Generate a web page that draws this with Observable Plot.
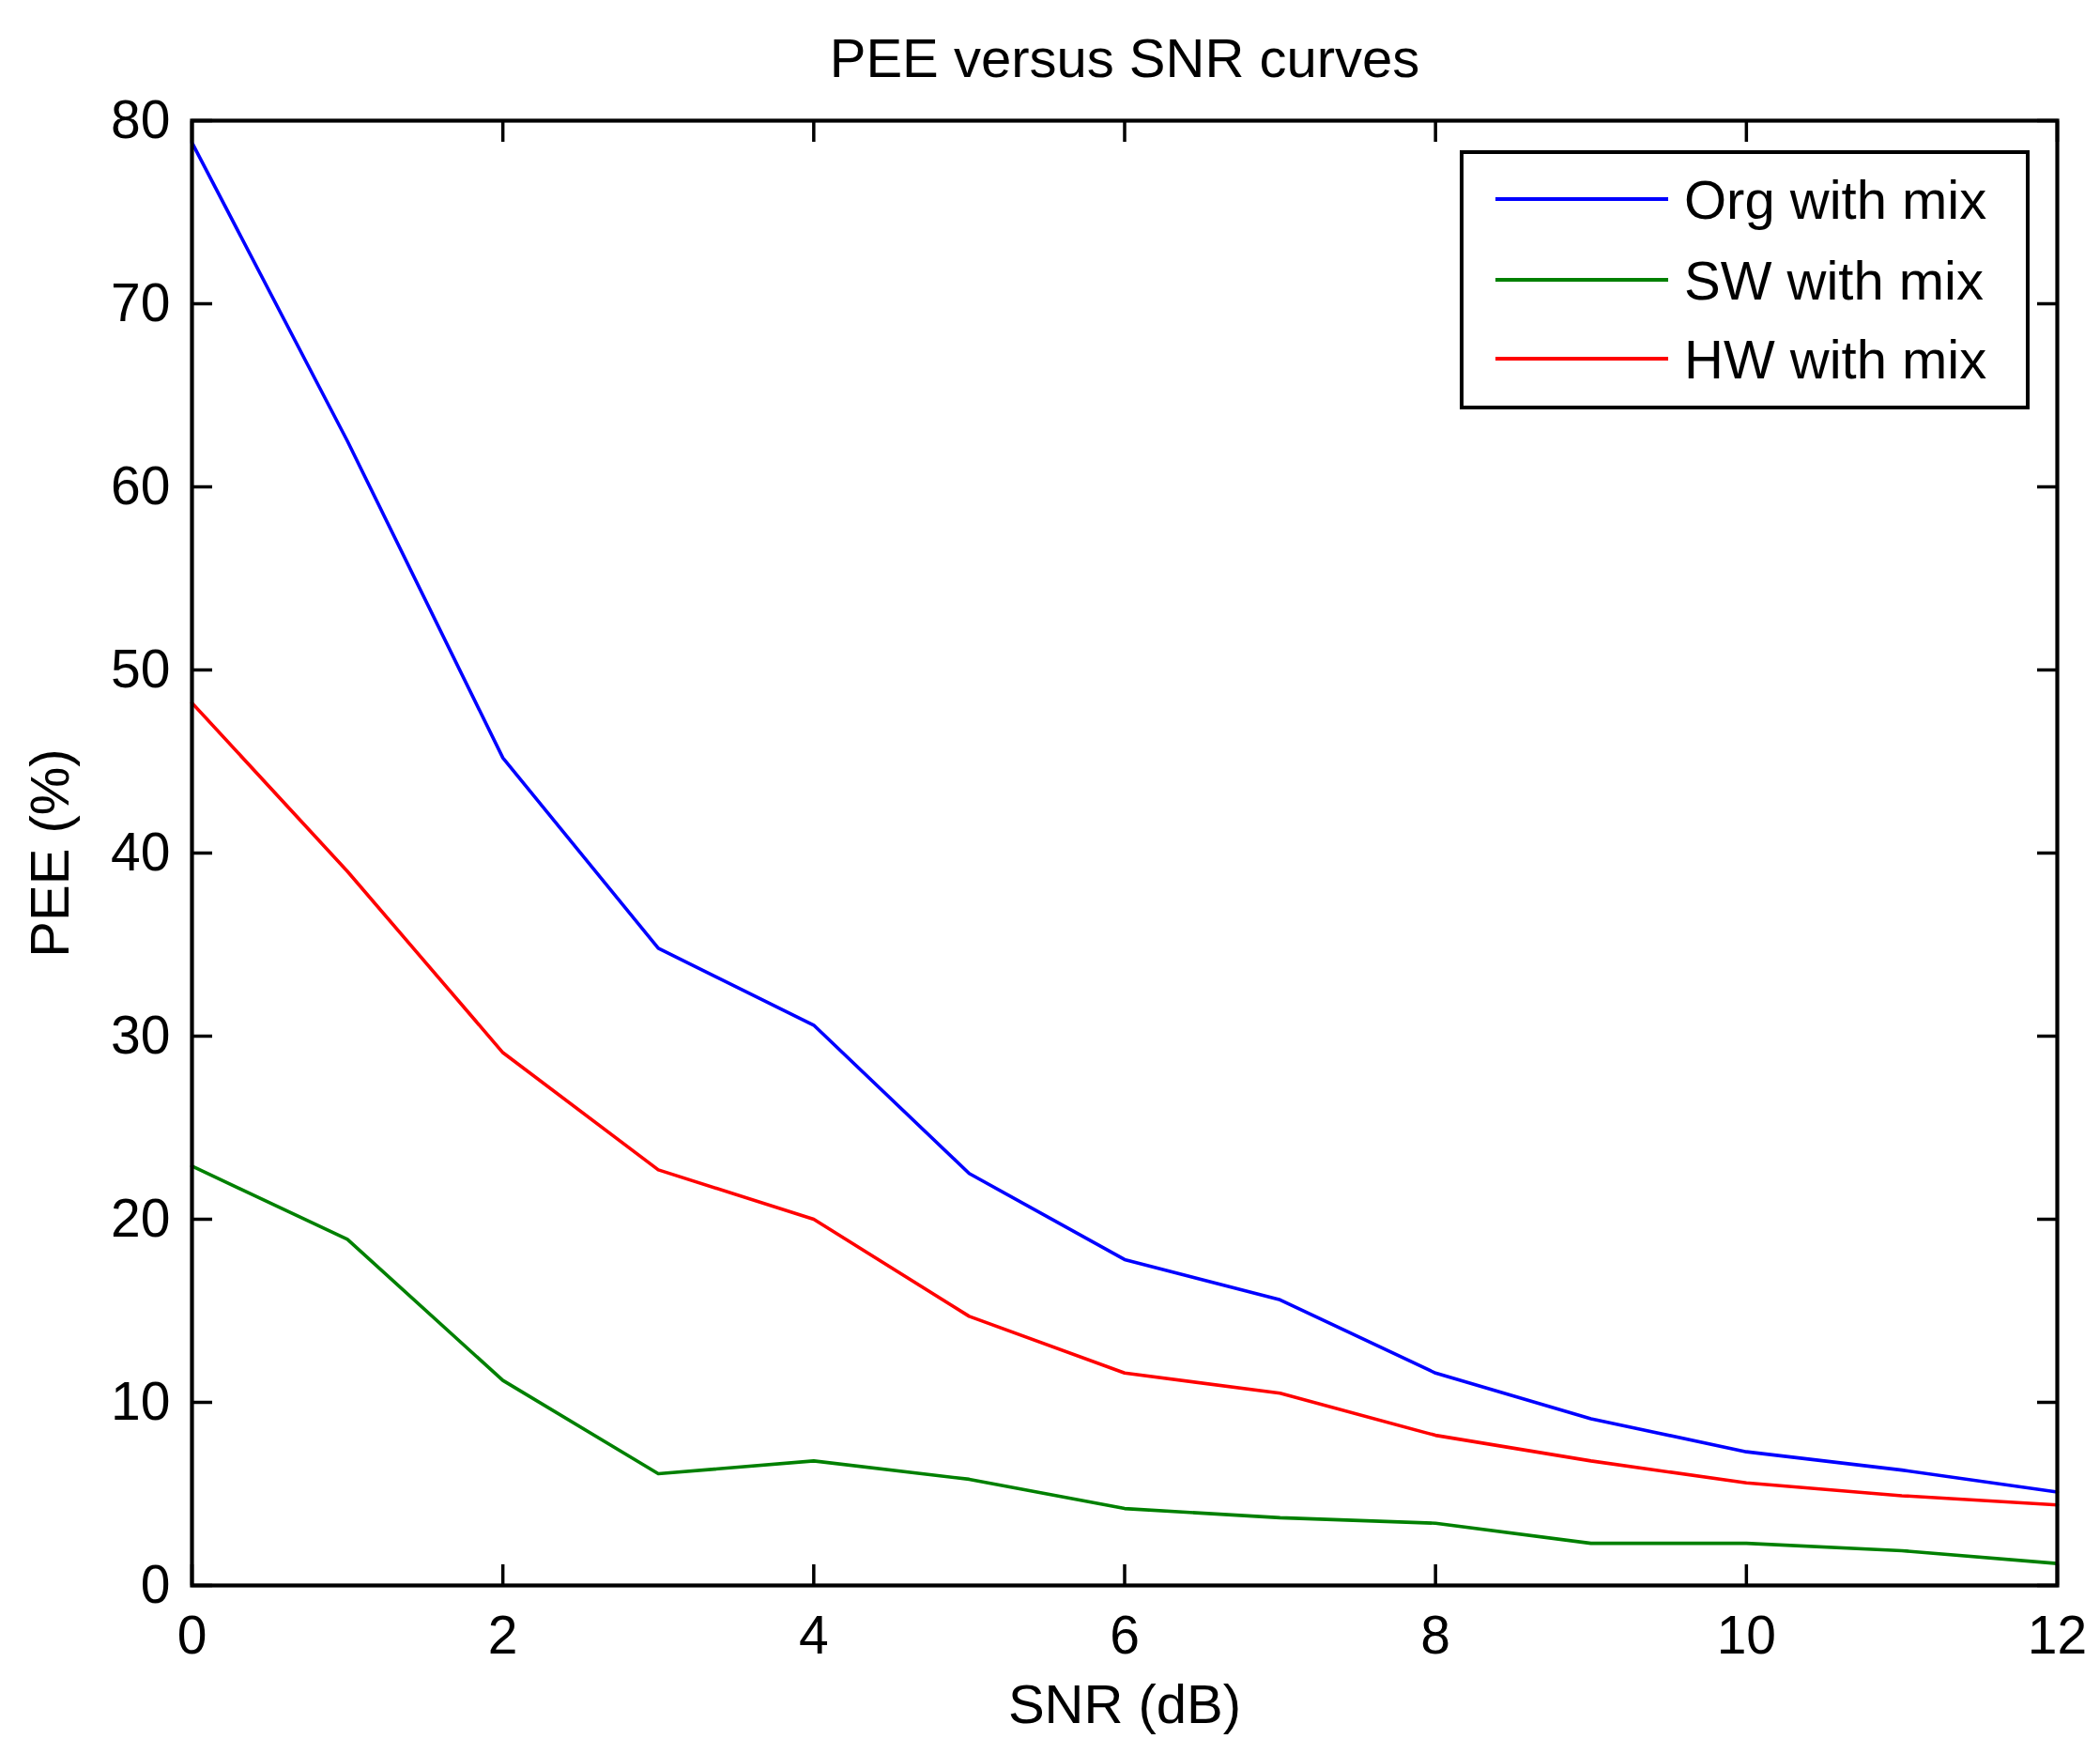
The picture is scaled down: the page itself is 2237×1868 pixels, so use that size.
<!DOCTYPE html>
<html>
<head>
<meta charset="utf-8">
<script src="https://cdn.jsdelivr.net/npm/d3@7"></script>
<script src="https://cdn.jsdelivr.net/npm/@observablehq/plot@0.6"></script>
<style>
  body { margin: 0; background: #fff; }
  #vis { position: relative; width: 2237px; height: 1868px; }
  .legend {
    position: absolute; left: 1555px; top: 160px; width: 599px; height: 268px;
    border: 4px solid #000; background: #fff;
    font-family: "Liberation Sans", Arial, sans-serif; font-size: 58px;
  }
  .legend .row { position: absolute; left: 0; height: 60px; display: flex; align-items: center; }
  .legend .sw { width: 184px; height: 3.5px; margin-left: 34px; margin-right: 17px; }
</style>
</head>
<body>
<div id="vis"></div>
<script>
// SNR (dB)
const snr = [0, 1, 2, 3, 4, 5, 6, 7, 8, 9, 10, 11, 12]
// PEE (%)
const orgMix = [78.8, 62.5, 45.2, 34.8, 30.6, 22.5, 17.8, 15.6, 11.6, 9.1, 7.3, 6.3, 5.1]
const swMix  = [22.9, 18.9, 11.2, 6.1, 6.8, 5.8, 4.2, 3.7, 3.4, 2.3, 2.3, 1.9, 1.2]
const hwMix  = [48.2, 39.0, 29.1, 22.7, 20.0, 14.7, 11.6, 10.5, 8.2, 6.8, 5.6, 4.9, 4.4]

const seriesNames = ['Org with mix', 'SW with mix', 'HW with mix']
const seriesColors = ['#0000ff', '#008000', '#ff0000']
const xTicks = [0, 2, 4, 6, 8, 10, 12]
const yTicks = [0, 10, 20, 30, 40, 50, 60, 70, 80]

const rows = []
;[orgMix, swMix, hwMix].forEach((vals, i) => {
  vals.forEach((v, j) => rows.push({snr: snr[j], pee: v, series: seriesNames[i]}))
})

const font = '"Liberation Sans", Arial, sans-serif'

let chart = Plot.plot({
  width: 2237,
  height: 1868,
  marginLeft: 204,
  marginRight: 46,
  marginTop: 128,
  marginBottom: 180,
  x: {domain: [0, 12]},
  y: {domain: [0, 80]},
  color: {domain: seriesNames, range: seriesColors},
  marks: [
    Plot.line(rows, {x: 'snr', y: 'pee', stroke: 'series', strokeWidth: 3.6}),
    Plot.axisX({anchor: 'bottom', ticks: xTicks, tickSize: -22, tickPadding: 54, strokeWidth: 3.5, label: null}),
    Plot.axisX({anchor: 'top', ticks: xTicks, tickSize: -22, tickFormat: () => '', strokeWidth: 3.5, label: null}),
    Plot.axisY({anchor: 'left', ticks: yTicks, tickSize: -22, tickPadding: 45, strokeWidth: 3.5, label: null}),
    Plot.axisY({anchor: 'right', ticks: yTicks, tickSize: -22, tickFormat: () => '', strokeWidth: 3.5, label: null}),
    Plot.frame({stroke: '#000', strokeWidth: 4.2}),
    Plot.text(['PEE versus SNR curves'], {frameAnchor: 'top', dy: -88, fontSize: 58}),
    Plot.text(['SNR (dB)'], {frameAnchor: 'bottom', dy: 146, fontSize: 58}),
    Plot.text(['PEE (%)'], {frameAnchor: 'left', textAnchor: 'middle', dx: -150, rotate: -90, fontSize: 58}),
  ],
  style: {
    fontFamily: font,
    fontSize: '57px',
    color: '#000',
    background: '#fff',
    overflow: 'visible'
  }
})
d3.select('#vis').append(() => chart)

// legend box, top right inside the axes
const leg = d3.select('#vis').append('div').attr('class', 'legend')
const rowTops = [18, 104, 188]
seriesNames.forEach((name, i) => {
  const r = leg.append('div').attr('class', 'row').style('top', rowTops[i] + 'px')
  r.append('div').attr('class', 'sw').style('background', seriesColors[i])
  r.append('span').text(name)
})
</script>
</body>
</html>
